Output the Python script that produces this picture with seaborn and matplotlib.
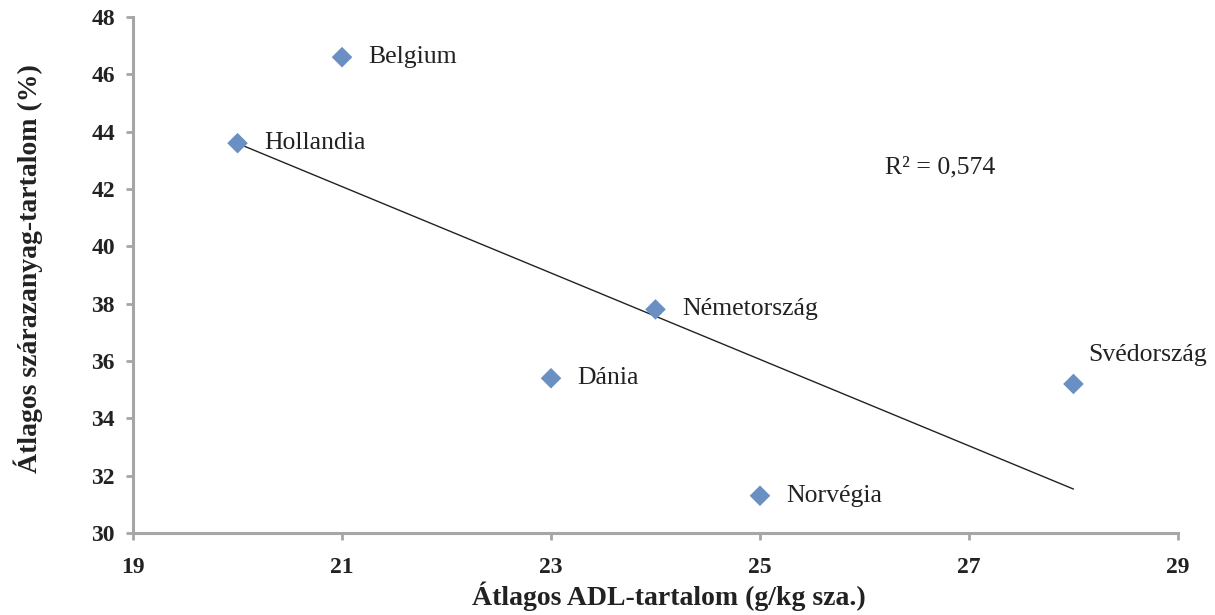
import numpy as np
import pandas as pd
import seaborn as sns
import matplotlib
matplotlib.use("Agg")
import matplotlib.pyplot as plt

# ---- data ----
countries = ["Hollandia", "Belgium", "Dánia", "Németország", "Norvégia", "Svédország"]
adl = [20, 21, 23, 24, 25, 28]
dm = [43.6, 46.6, 35.4, 37.8, 31.3, 35.2]
x_ticks = [19, 21, 23, 25, 27, 29]
y_ticks = [30, 32, 34, 36, 38, 40, 42, 44, 46, 48]
r2_text = "R² = 0,574"

df = pd.DataFrame({"country": countries, "adl": adl, "dm": dm})

sns.set_theme(style="white")
plt.rcParams["font.family"] = ["Liberation Serif", "DejaVu Serif"]

fig = plt.figure(figsize=(12.15, 6.15), dpi=100)
ax = fig.add_axes([0.1095, 0.1333, 0.86, 0.839])

sns.regplot(data=df, x="adl", y="dm", ax=ax, scatter=False, ci=None,
            truncate=True, line_kws=dict(color="#222222", lw=1.0))
sns.scatterplot(data=df, x="adl", y="dm", ax=ax, marker="D", s=110,
                color="#6a90c3", edgecolor="none", zorder=3)

for c, xv, yv in zip(countries, adl, dm):
    if c == "Svédország":
        off = (11, 21)
    else:
        off = (19, 0)
    ax.annotate(c, (xv, yv), xytext=off, textcoords="offset points",
                ha="left", va="center", fontsize=18.5, color="#222222")

ax.text(26.2, 42.75, r2_text, fontsize=18.5, color="#222222",
        ha="left", va="center")

ax.set_xlim(19, 29)
ax.set_ylim(30, 48)
ax.set_xticks(x_ticks)
ax.set_yticks(y_ticks)
ax.set_xlabel("Átlagos ADL-tartalom (g/kg sza.)", fontsize=20,
              fontweight="bold", color="#222222")
ax.set_ylabel("Átlagos szárazanyag-tartalom (%)", fontsize=20,
              fontweight="bold", color="#222222")
ax.xaxis.set_label_coords(0.513, -0.093)
ax.yaxis.set_label_coords(-0.086, 0.513)

for lab in ax.get_xticklabels() + ax.get_yticklabels():
    lab.set_fontweight("bold")
    lab.set_fontsize(17)
    lab.set_color("#222222")

for side in ["top", "right"]:
    ax.spines[side].set_visible(False)
for side in ["left", "bottom"]:
    ax.spines[side].set_color("#a6a6a6")
    ax.spines[side].set_linewidth(2.2)

ax.tick_params(axis="both", which="major", direction="out", length=5,
               width=2, color="#a6a6a6", bottom=True, left=True)
ax.tick_params(axis="x", pad=12)
ax.tick_params(axis="y", pad=8)
ax.grid(False)

fig.savefig("out.png", dpi=100)
